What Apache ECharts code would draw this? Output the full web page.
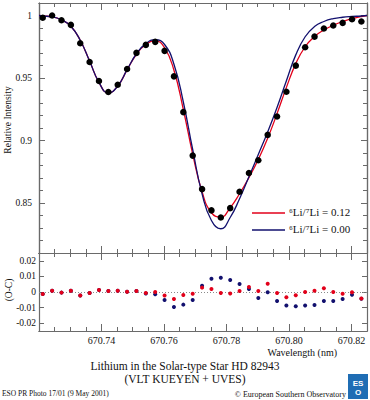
<!DOCTYPE html>
<html><head><meta charset="utf-8">
<script src="https://cdn.jsdelivr.net/npm/echarts@6/dist/echarts.min.js"></script>
<style>html,body{margin:0;padding:0;background:#fff}#c{width:370px;height:400px}</style>
</head><body><div id="c"></div>
<script>
// ---- data ----
const wavelength = [670.7212, 670.7242, 670.7272, 670.7302, 670.7332, 670.7362, 670.7392, 670.7422, 670.7452, 670.7482,
  670.7512, 670.7542, 670.7572, 670.7602, 670.7632, 670.7662, 670.7692, 670.7722, 670.7752, 670.7782,
  670.7812, 670.7842, 670.7872, 670.7902, 670.7932, 670.7962, 670.7992, 670.8022, 670.8052, 670.8082,
  670.8112, 670.8142, 670.8172, 670.8202, 670.8232];
const observed = [0.9982, 1.0000, 0.9962, 0.9925, 0.9778, 0.9628, 0.9476, 0.9388, 0.9446, 0.9572,
  0.9701, 0.9765, 0.9789, 0.9717, 0.9513, 0.9227, 0.8879, 0.8611, 0.8441, 0.8384,
  0.8459, 0.8590, 0.8740, 0.8842, 0.9045, 0.9192, 0.9390, 0.9599, 0.9746, 0.9831,
  0.9896, 0.9920, 0.9941, 0.9970, 0.9952];
const modelWavelength = [670.7200, 670.7212, 670.7242, 670.7272, 670.7302, 670.7332, 670.7362, 670.7392, 670.7422, 670.7452, 670.7482,
  670.7512, 670.7542, 670.7572, 670.7602, 670.7632, 670.7662, 670.7692, 670.7722, 670.7752, 670.7782,
  670.7812, 670.7842, 670.7872, 670.7902, 670.7932, 670.7962, 670.7992, 670.8022, 670.8052, 670.8082,
  670.8112, 670.8142, 670.8172, 670.8202, 670.8232, 670.8250];
const modelLi012 = [1.0000, 0.9996, 0.9990, 0.9966, 0.9914, 0.9802, 0.9636, 0.9465, 0.9380, 0.9436, 0.9565,
  0.9690, 0.9768, 0.9797, 0.9742, 0.9562, 0.9248, 0.8892, 0.8590, 0.8422, 0.8388,
  0.8462, 0.8574, 0.8703, 0.8848, 0.9018, 0.9215, 0.9425, 0.9615, 0.9750, 0.9832,
  0.9884, 0.9922, 0.9952, 0.9974, 0.9992, 1.0000];
const modelLi000 = [1.0000, 0.9996, 0.9990, 0.9966, 0.9914, 0.9802, 0.9636, 0.9465, 0.9380, 0.9436, 0.9567,
  0.9694, 0.9775, 0.9806, 0.9768, 0.9610, 0.9308, 0.8928, 0.8574, 0.8360, 0.8294,
  0.8384, 0.8534, 0.8710, 0.8888, 0.9068, 0.9264, 0.9478, 0.9685, 0.9830, 0.9912,
  0.9952, 0.9975, 0.9986, 0.9992, 0.9996, 1.0000];
const residLi012 = [-0.0013, 0.0008, -0.0004, 0.0008, -0.0022, -0.0006, 0.0013, 0.0006, 0.0008, 0.0002,
  0.0006, -0.0006, 0.0000, -0.0022, -0.0045, -0.0019, -0.0011, 0.0028, 0.0019, -0.0006,
  -0.0009, 0.0006, 0.0032, 0.0006, 0.0053, -0.0006, -0.0034, -0.0021, 0.0000, 0.0008,
  0.0024, 0.0000, -0.0011, -0.0002, -0.0041];
const residLi000 = [-0.0013, 0.0008, -0.0004, 0.0008, -0.0022, -0.0006, 0.0013, 0.0006, 0.0008, 0.0002,
  0.0006, -0.0010, -0.0014, -0.0051, -0.0096, -0.0081, -0.0051, 0.0040, 0.0085, 0.0092,
  0.0077, 0.0051, 0.0019, -0.0038, -0.0002, -0.0058, -0.0087, -0.0092, -0.0087, -0.0083,
  -0.0058, -0.0058, -0.0045, -0.0017, -0.0043];
// tick values
const xMajorTicks = [670.74, 670.76, 670.78, 670.80, 670.82];
const xMinorTicks = [670.725, 670.73, 670.735, 670.745, 670.75, 670.755, 670.765, 670.77, 670.775,
  670.785, 670.79, 670.795, 670.805, 670.81, 670.815, 670.825];
const yMajorTicks = [0.85, 0.90, 0.95, 1.00];
const yMinorTicks = [0.82, 0.83, 0.84, 0.86, 0.87, 0.88, 0.89, 0.91, 0.92, 0.93, 0.94, 0.96, 0.97, 0.98, 0.99];
const residTicks = [-0.02, -0.01, 0, 0.01, 0.02];
const legendLabels = ['\u2076Li/\u2077Li = 0.12', '\u2076Li/\u2077Li = 0.00'];

// ---- chart ----
const FONT = '"Liberation Serif", "Times New Roman", serif';
const GRAY = '#6a6a6a';
const RED = '#e2001a';
const BLUE = '#12106e';
const X_MIN = 670.72, X_MAX = 670.825;

function makeX(grid, pos, ticks, len, labels) {
  return {
    type: 'value', gridIndex: grid, position: pos, min: X_MIN, max: X_MAX,
    splitLine: {show: false},
    axisLine: {show: true, onZero: false, lineStyle: {color: GRAY, width: 1.2}},
    axisTick: {show: true, inside: true, length: len, customValues: ticks, lineStyle: {color: GRAY, width: 1}},
    axisLabel: labels ? {show: true, customValues: ticks, margin: 4, fontSize: 10, fontFamily: FONT, color: '#111',
      formatter: v => v.toFixed(2)} : {show: false}
  };
}
function makeY(grid, pos, min, max, ticks, len, labels, margin) {
  return {
    type: 'value', gridIndex: grid, position: pos, min: min, max: max,
    splitLine: {show: false},
    axisLine: {show: true, onZero: false, lineStyle: {color: GRAY, width: 1.2}},
    axisTick: {show: true, inside: true, length: len, customValues: ticks, lineStyle: {color: GRAY, width: 1}},
    axisLabel: labels ? {show: true, customValues: ticks, margin: margin, fontSize: 9.5, fontFamily: FONT, color: '#111'} : {show: false}
  };
}

const chart = echarts.init(document.getElementById('c'), null, {renderer: 'svg'});
const option = {
  animation: false,
  backgroundColor: '#fff',
  grid: [
    {left: 39, right: 3, top: 3, height: 250},
    {left: 39, right: 3, top: 253, height: 78}
  ],
  xAxis: [
    makeX(0, 'bottom', xMajorTicks, 7, false),
    makeX(0, 'bottom', xMinorTicks, 4, false),
    makeX(0, 'top', xMajorTicks, 7, false),
    makeX(0, 'top', xMinorTicks, 4, false),
    makeX(1, 'top', xMajorTicks, 7, false),
    makeX(1, 'top', xMinorTicks, 4, false),
    makeX(1, 'bottom', xMajorTicks, 7, true),
    makeX(1, 'bottom', xMinorTicks, 4, false)
  ],
  yAxis: [
    makeY(0, 'left', 0.81, 1.01, yMajorTicks, 6, true, 7),
    makeY(0, 'left', 0.81, 1.01, yMinorTicks, 4, false),
    makeY(0, 'right', 0.81, 1.01, yMajorTicks, 6, false),
    makeY(0, 'right', 0.81, 1.01, yMinorTicks, 4, false),
    makeY(1, 'left', -0.025, 0.025, residTicks, 5, true, 3),
    makeY(1, 'right', -0.025, 0.025, residTicks, 5, false)
  ],
  series: [
    {type: 'line', xAxisIndex: 0, yAxisIndex: 0, showSymbol: false, smooth: 0.5,
      data: modelWavelength.map((w, i) => [w, modelLi012[i]]), lineStyle: {color: RED, width: 1.3}, z: 2},
    {type: 'line', xAxisIndex: 0, yAxisIndex: 0, showSymbol: false, smooth: 0.5,
      data: modelWavelength.map((w, i) => [w, modelLi000[i]]), lineStyle: {color: BLUE, width: 1.3}, z: 3},
    {type: 'scatter', xAxisIndex: 0, yAxisIndex: 0, symbolSize: 6.5,
      data: wavelength.map((w, i) => [w, observed[i]]), itemStyle: {color: '#000', opacity: 1}, z: 4},
    {type: 'scatter', xAxisIndex: 6, yAxisIndex: 4, symbolSize: 4,
      data: wavelength.map((w, i) => [w, residLi000[i]]), itemStyle: {color: BLUE, opacity: 1}, z: 3,
      markLine: {silent: true, symbol: 'none', label: {show: false}, z: 1,
        lineStyle: {type: [1, 2], color: '#8a8a8a', width: 1}, data: [{yAxis: 0}]}},
    {type: 'scatter', xAxisIndex: 6, yAxisIndex: 4, symbolSize: 4,
      data: wavelength.map((w, i) => [w, residLi012[i]]), itemStyle: {color: RED, opacity: 1}, z: 4}
  ],
  graphic: [
    {type: 'line', shape: {x1: 252, y1: 213, x2: 285, y2: 213}, style: {stroke: RED, lineWidth: 1.5}},
    {type: 'text', x: 289, y: 212, style: {text: legendLabels[0], fontSize: 11, fontFamily: FONT, fill: '#111', align: 'left', verticalAlign: 'middle'}},
    {type: 'line', shape: {x1: 252, y1: 230, x2: 285, y2: 230}, style: {stroke: BLUE, lineWidth: 1.5}},
    {type: 'text', x: 289, y: 229, style: {text: legendLabels[1], fontSize: 11, fontFamily: FONT, fill: '#111', align: 'left', verticalAlign: 'middle'}},
    {type: 'text', x: 8, y: 120, rotation: Math.PI / 2, style: {text: 'Relative Intensity', fontSize: 9.5, fontFamily: FONT, fill: '#111', align: 'center', verticalAlign: 'middle'}},
    {type: 'text', x: 9, y: 290, rotation: Math.PI / 2, style: {text: '(O-C)', fontSize: 9.5, fontFamily: FONT, fill: '#111', align: 'center', verticalAlign: 'middle'}},
    {type: 'text', x: 337, y: 352, style: {text: 'Wavelength (nm)', fontSize: 10, fontFamily: FONT, fill: '#111', align: 'right', verticalAlign: 'middle'}},
    {type: 'text', x: 185, y: 366, style: {text: 'Lithium in the Solar-type Star HD 82943', fontSize: 11.5, fontFamily: FONT, fill: '#111', align: 'center', verticalAlign: 'middle'}},
    {type: 'text', x: 185, y: 379, style: {text: '(VLT KUEYEN + UVES)', fontSize: 11.5, fontFamily: FONT, fill: '#111', align: 'center', verticalAlign: 'middle'}},
    {type: 'text', x: 2, y: 393, style: {text: 'ESO PR Photo 17/01 (9 May 2001)', fontSize: 7.5, fontFamily: FONT, fill: '#111', align: 'left', verticalAlign: 'middle'}},
    {type: 'text', x: 346, y: 394, style: {text: '\u00A9 European Southern Observatory', fontSize: 8, fontFamily: FONT, fill: '#111', align: 'right', verticalAlign: 'middle'}},
    {type: 'rect', shape: {x: 348, y: 374, width: 20, height: 25}, style: {fill: '#1f6db4'}},
    {type: 'text', x: 358, y: 383, style: {text: 'ES', fontSize: 8, fontWeight: 'bold', fontFamily: '"Liberation Sans", sans-serif', fill: '#fff', align: 'center', verticalAlign: 'middle'}},
    {type: 'text', x: 358, y: 392, style: {text: 'O', fontSize: 8, fontWeight: 'bold', fontFamily: '"Liberation Sans", sans-serif', fill: '#fff', align: 'center', verticalAlign: 'middle'}}
  ]
};
chart.setOption(option);
</script>
</body></html>
